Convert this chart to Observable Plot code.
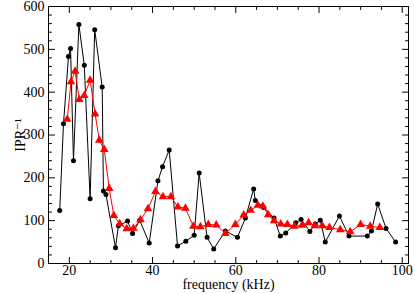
<!DOCTYPE html>
<html>
<head>
<meta charset="utf-8">
<script src="https://cdn.jsdelivr.net/npm/d3@7"></script>
<script src="https://cdn.jsdelivr.net/npm/@observablehq/plot@0.6"></script>
<style>
  html, body { margin: 0; padding: 0; background: #fff; }
</style>
</head>
<body>
<div id="chart"></div>
<script>
// Black series (circles)
const blackFreq = [17.7, 18.6, 19.8, 20.3, 21.0, 22.3, 23.6, 25.0, 26.1, 27.9, 28.2, 28.8, 31.1, 31.8, 34.0, 35.2, 36.9, 39.2, 41.3, 42.4, 44.0, 46.0, 48.0, 50.0, 51.2, 53.1, 54.7, 57.5, 60.4, 62.3, 64.3, 64.7, 66.7, 69.2, 70.7, 72.0, 74.4, 75.7, 77.8, 79.1, 80.3, 81.5, 84.9, 87.2, 91.6, 92.6, 94.1, 96.1, 98.4];
const blackIPR  = [124, 326, 483, 502, 240, 558, 463, 151, 546, 412, 169, 161, 37, 88, 99, 70, 101, 48, 193, 226, 265, 41, 52, 66, 211, 61, 34, 76, 61, 106, 174, 147, 131, 106, 64, 71, 95, 103, 75, 92, 101, 50, 111, 64, 64, 76, 139, 82, 50];

// Red series (triangles)
const redFreq = [19.5, 20.4, 21.4, 22.4, 23.6, 25.0, 26.2, 27.2, 28.4, 29.6, 30.7, 32.1, 33.8, 35.4, 37.1, 38.9, 40.7, 42.5, 44.4, 46.1, 47.9, 49.8, 51.5, 53.4, 55.3, 57.5, 59.9, 61.9, 63.6, 65.3, 66.5, 67.8, 69.2, 70.8, 72.4, 74.1, 75.9, 77.5, 79.0, 80.8, 82.5, 85.1, 87.5, 90.0, 92.3, 94.6];
const redIPR  = [337, 424, 449, 383, 392, 428, 349, 288, 266, 175, 112, 93, 81, 82, 102, 128, 168, 156, 156, 132, 129, 87, 86, 91, 90, 70, 91, 113, 124, 136, 134, 114, 100, 92, 91, 87, 89, 95, 88, 88, 84, 79, 74, 91, 87, 84];

const xMajor = [20, 40, 60, 80, 100];
const xMinor = [15, 25, 30, 35, 45, 50, 55, 65, 70, 75, 85, 90, 95];
const yMajor = [0, 100, 200, 300, 400, 500, 600];
const yMinor = [20, 40, 60, 80, 120, 140, 160, 180, 220, 240, 260, 280, 320, 340, 360, 380, 420, 440, 460, 480, 520, 540, 560, 580];

const xLabel = "frequency (kHz)";
const yLabel = "IPR\u207B\u00B9";

const black = blackFreq.map((f, i) => ({f, v: blackIPR[i]}));
const red = redFreq.map((f, i) => ({f, v: redIPR[i]}));

const FONT = "Liberation Serif, DejaVu Serif, serif";

const tickShape = {draw(context, l) { context.moveTo(0, 0); context.lineTo(0, -l); }};
const inTicks = (vals, dim, side, len) => Plot.vector(vals, {
  [dim]: d => d,
  frameAnchor: side,
  length: len,
  rotate: side === "bottom" ? 0 : side === "top" ? 180 : side === "left" ? 90 : -90,
  anchor: "start",
  shape: tickShape,
  stroke: "#000",
  strokeWidth: 1
});

const chart = Plot.plot({
  width: 415,
  height: 294,
  marginLeft: 48,
  marginRight: 7,
  marginTop: 6,
  marginBottom: 31,
  x: {domain: [15, 101.5]},
  y: {domain: [0, 600]},
  marks: [
    Plot.frame({stroke: "#000", strokeWidth: 1}),
    Plot.axisX({anchor: "bottom", ticks: xMajor, tickSize: 0, tickPadding: 2, fontSize: 14, fontFamily: FONT, fill: "#000", label: xLabel, labelAnchor: "center", labelOffset: 25, labelArrow: "none"}),
    Plot.axisY({anchor: "left", ticks: yMajor, tickSize: 0, tickPadding: 4, fontSize: 14, fontFamily: FONT, fill: "#000", label: yLabel, labelAnchor: "center", labelOffset: 33, labelArrow: "none"}),
    inTicks(xMajor, "x", "bottom", 6),
    inTicks(xMinor, "x", "bottom", 3),
    inTicks(xMajor, "x", "top", 6),
    inTicks(xMinor, "x", "top", 3),
    inTicks(yMajor, "y", "left", 6),
    inTicks(yMinor, "y", "left", 3),
    inTicks(yMajor, "y", "right", 6),
    inTicks(yMinor, "y", "right", 3),
    Plot.line(black, {x: "f", y: "v", stroke: "#000", strokeWidth: 1}),
    Plot.dot(black, {x: "f", y: "v", r: 2.5, fill: "#000", stroke: "none"}),
    Plot.line(red, {x: "f", y: "v", stroke: "#ff0000", strokeWidth: 1}),
    Plot.dot(red, {x: "f", y: "v", symbol: "triangle", r: 3.2, fill: "#ff0000", stroke: "none"})
  ]
});

document.getElementById("chart").appendChild(chart);
</script>
</body>
</html>
